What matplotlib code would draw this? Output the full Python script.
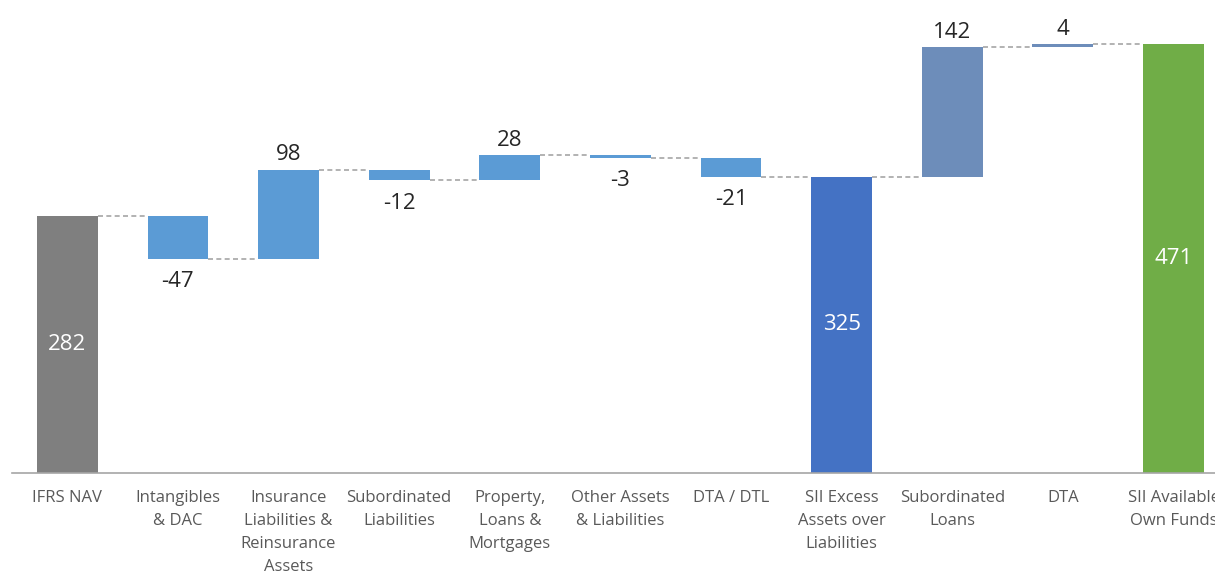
import matplotlib.pyplot as plt

categories = ["IFRS NAV", "Intangibles\n& DAC", "Insurance\nLiabilities &\nReinsurance\nAssets",
              "Subordinated\nLiabilities", "Property,\nLoans &\nMortgages", "Other Assets\n& Liabilities",
              "DTA / DTL", "SII Excess\nAssets over\nLiabilities", "Subordinated\nLoans", "DTA",
              "SII Available\nOwn Funds"]
values = [282, -47, 98, -12, 28, -3, -21, 325, 142, 4, 471]
is_total = [True, False, False, False, False, False, False, True, False, False, True]
colors = ["#7f7f7f", "#5b9bd5", "#5b9bd5", "#5b9bd5", "#5b9bd5", "#5b9bd5", "#5b9bd5",
          "#4472c4", "#6d8dba", "#6d8dba", "#70ad47"]

plt.rcParams['font.family'] = ['Open Sans', 'DejaVu Sans']

fig = plt.figure(figsize=(12.15, 5.76), dpi=100)
ax = fig.add_axes([12 / 1215, 103 / 576, 1 - 12 / 1215, 473 / 576])

w = 0.55
bottoms = []
tops = []
running = 0
for i, v in enumerate(values):
    if is_total[i]:
        b, t = 0, v
        running = v
    else:
        start = running
        running = running + v
        b, t = min(start, running), max(start, running)
    bottoms.append(b)
    tops.append(t)
    ax.bar(i, t - b, bottom=b, width=w, color=colors[i], zorder=2)

# connectors
levels = []
running = 0
for i, v in enumerate(values):
    running = v if is_total[i] else running + v
    levels.append(running)
for i in range(len(values) - 1):
    ax.plot([i + w / 2, i + 1 - w / 2], [levels[i], levels[i]], ls=(0, (3, 2)),
            color="#a6a6a6", lw=1.2, zorder=1)

for i, v in enumerate(values):
    if is_total[i]:
        ax.text(i, v / 2, str(v), ha="center", va="center", color="white", fontsize=16)
    elif v > 0:
        ax.annotate(str(v), (i, tops[i]), xytext=(0, 3), textcoords="offset points",
                    ha="center", va="bottom", color="#262626", fontsize=16)
    else:
        ax.annotate(str(v), (i, bottoms[i]), xytext=(0, -9), textcoords="offset points",
                    ha="center", va="top", color="#262626", fontsize=16)

ax.set_xlim(-0.5, 10.375)
ax.set_ylim(0, 519)
ax.set_xticks(range(len(categories)))
ax.set_xticklabels(categories, fontsize=12, color="#595959", linespacing=1.58)
ax.tick_params(axis="x", length=0, pad=12)
ax.set_yticks([])
for s in ["top", "right", "left"]:
    ax.spines[s].set_visible(False)
ax.spines["bottom"].set_color("#a6a6a6")
ax.spines["bottom"].set_linewidth(1.2)

fig.savefig("out.png", dpi=100)
